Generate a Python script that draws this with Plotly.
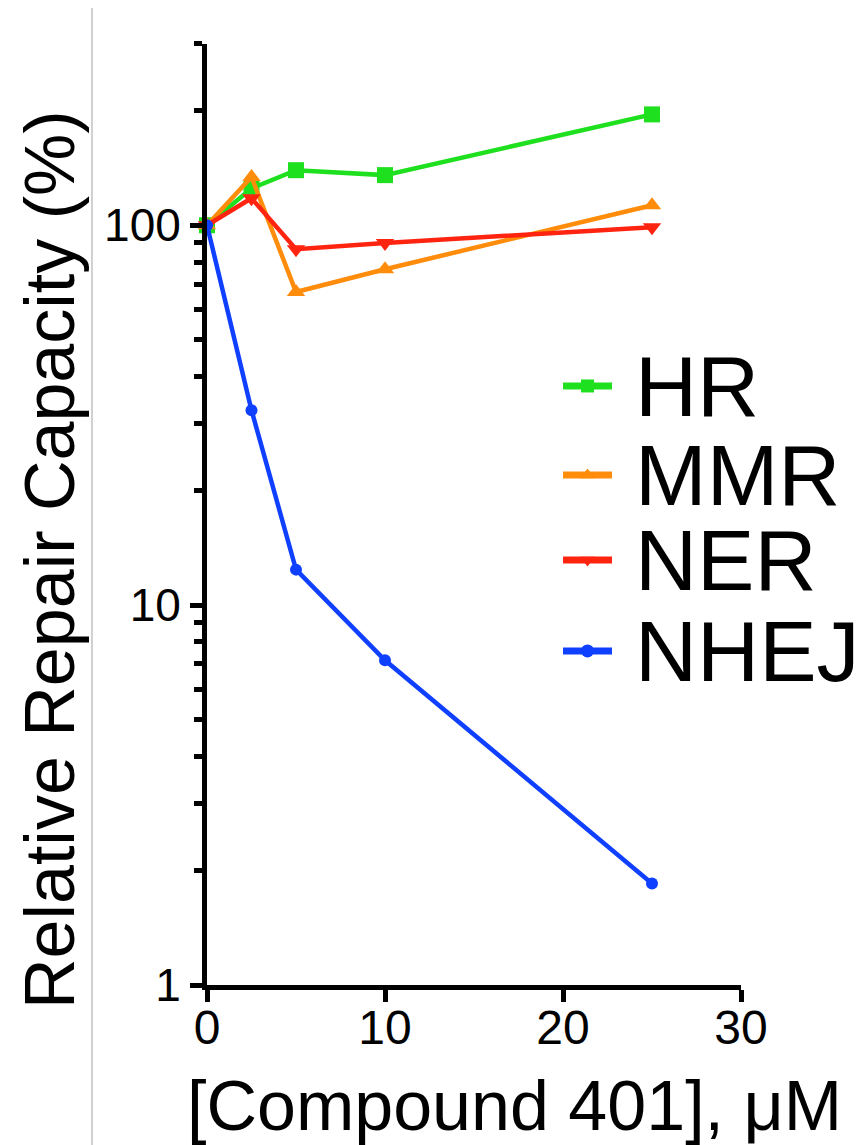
import plotly.graph_objects as go

# ---- data ----
conc = [0, 2.5, 5, 10, 25]
hr = [100, 125, 139.6, 135.5, 195.8]
mmr = [100, 134, 66.7, 76.6, 112.9]
ner = [100, 117.8, 86.5, 89.8, 98.8]
nhej = [100, 32.6, 12.4, 7.16, 1.85]

series_names = ["HR", "MMR", "NER", "NHEJ"]
series_values = [hr, mmr, ner, nhej]
series_colors = ["#1FE01F", "#FF8C0A", "#FF2410", "#1040FF"]
series_symbols = ["square", "triangle-up", "triangle-down", "circle"]
series_sizes = [16, 16, 16, 12]

x_ticks = [0, 10, 20, 30]
y_major = [1, 10, 100]
y_minor = [2, 3, 4, 5, 6, 7, 8, 9, 20, 30, 40, 50, 60, 70, 80, 90, 200, 300]

FONT = "Liberation Sans, Arial, sans-serif"

fig = go.Figure()
for name, vals, col, sym, sz in zip(series_names, series_values, series_colors,
                                    series_symbols, series_sizes):
    fig.add_trace(go.Scatter(
        x=conc, y=vals, mode="lines+markers", name=name,
        line=dict(color=col, width=4.5),
        marker=dict(symbol=sym, size=sz, color=col, line=dict(width=0)),
        showlegend=False, cliponaxis=False))

# ---- manual legend (overlay axes in 0..1 units of the plot area) ----
leg_x0, leg_x1 = 0.6667, 0.7584
leg_y = [0.6366, 0.542, 0.4517, 0.355]
leg_text_x = 0.798
for name, col, sym, ly in zip(series_names, series_colors, series_symbols, leg_y):
    fig.add_trace(go.Scatter(
        x=[leg_x0, leg_x1], y=[ly, ly], xaxis="x2", yaxis="y2", mode="lines",
        line=dict(color=col, width=7), showlegend=False, hoverinfo="skip"))
    fig.add_trace(go.Scatter(
        x=[(leg_x0 + leg_x1) / 2], y=[ly], xaxis="x2", yaxis="y2", mode="markers",
        marker=dict(symbol=sym, size=13, color=col), showlegend=False,
        hoverinfo="skip"))
    fig.add_annotation(x=leg_text_x, y=ly, xref="paper", yref="paper",
                       text=name, showarrow=False, xanchor="left",
                       yanchor="middle",
                       font=dict(family=FONT, size=86, color="black"))

axis_common = dict(showline=True, linecolor="black", linewidth=5,
                   ticks="outside", tickwidth=5, tickcolor="black",
                   ticklen=12, showgrid=False, zeroline=False)

# page body has an 8px margin, so the figure is drawn 8px smaller and offset
fig.update_layout(
    width=857, height=1137,
    margin=dict(l=199, r=124, t=36, b=160),
    paper_bgcolor="white", plot_bgcolor="white",
    xaxis=dict(range=[0, 30], tickvals=x_ticks, ticklabelstandoff=-16,
               tickfont=dict(family=FONT, size=48, color="black"),
               **axis_common),
    yaxis=dict(type="log", range=[0, 2.4771], tickvals=y_major,
               ticktext=[str(v) for v in y_major],
               tickfont=dict(family=FONT, size=46, color="black"),
               minor=dict(tickvals=y_minor, ticks="outside", ticklen=8,
                          tickwidth=5, tickcolor="black", showgrid=False),
               **axis_common),
    xaxis2=dict(overlaying="x", range=[0, 1], visible=False),
    yaxis2=dict(overlaying="y", range=[0, 1], visible=False),
    showlegend=False,
)

# axis titles as annotations
fig.add_annotation(x=-0.294, y=0.4516, xref="paper", yref="paper",
                   text="Relative Repair Capacity (%)", textangle=-90,
                   showarrow=False, xanchor="center", yanchor="middle",
                   font=dict(family=FONT, size=70, color="black"))
fig.add_annotation(x=0.575, y=-0.129, xref="paper", yref="paper",
                   text="[Compound 401], \u03bcM", showarrow=False,
                   xanchor="center", yanchor="middle",
                   font=dict(family=FONT, size=70, color="black"))

# thin gray border line at left
fig.add_shape(type="line", xref="paper", yref="paper",
              x0=-0.2154, x1=-0.2154, y0=-0.2, y1=1.1,
              line=dict(color="#D0D0D0", width=2))

fig.write_html("out.html")
